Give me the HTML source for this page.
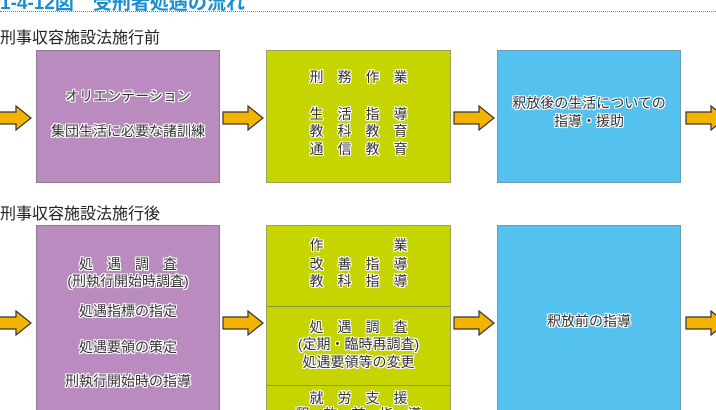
<!DOCTYPE html>
<html><head><meta charset="utf-8"><style>
html,body{margin:0;padding:0;background:#fff;width:716px;height:410px;overflow:hidden;position:relative;font-family:"Liberation Sans","Noto Sans CJK JP",sans-serif;}
.b{position:absolute;box-sizing:border-box;border:1px solid #8a7f8a;}
.p{background:#b98bbf;}
.g{background:#c6d400;border-color:#9aa060;}
.c{background:#55c1ee;border-color:#6f9bb0;}
.t{position:absolute;left:0;width:100%;text-align:center;font-size:14px;line-height:17px;color:#333;white-space:pre;
text-shadow:1px 0 0 #fff,-1px 0 0 #fff,0 1px 0 #fff,0 -1px 0 #fff,1px 1px 0 #fff,-1px -1px 0 #fff,1px -1px 0 #fff,-1px 1px 0 #fff;}
.h{position:absolute;left:0;font-size:16px;color:#222;}
.ttl{position:absolute;left:0;top:-12px;font-size:19px;font-weight:bold;color:#1a8fd0;white-space:nowrap;}
.dot{position:absolute;left:0;top:11px;width:716px;border-top:1px dotted #3aa0d8;}
svg.a{position:absolute;}
.div{position:absolute;left:0;width:100%;border-top:1px solid #8a9a40;}
</style></head><body>
<div class="ttl">1-4-12図　受刑者処遇の流れ</div>
<div class="dot"></div>
<div class="h" style="top:24px">刑事収容施設法施行前</div>
<div class="h" style="top:200px">刑事収容施設法施行後</div>

<div class="b p" style="left:36px;top:50px;width:184px;height:133px">
<div class="t" style="top:37px">オリエンテーション</div>
<div class="t" style="top:72px">集団生活に必要な諸訓練</div></div>
<div class="b g" style="left:266px;top:50px;width:185px;height:133px">
<div class="t" style="top:18px">刑　務　作　業</div>
<div class="t" style="top:55px">生　活　指　導</div>
<div class="t" style="top:72px">教　科　教　育</div>
<div class="t" style="top:90px">通　信　教　育</div></div>
<div class="b c" style="left:497px;top:50px;width:184px;height:133px">
<div class="t" style="top:44px">釈放後の生活についての</div>
<div class="t" style="top:62px">指導・援助</div></div>

<div class="b p" style="left:36px;top:225px;width:184px;height:200px">
<div class="t" style="top:30px">処　遇　調　査</div>
<div class="t" style="top:47px">(刑執行開始時調査)</div>
<div class="t" style="top:77px">処遇指標の指定</div>
<div class="t" style="top:113px">処遇要領の策定</div>
<div class="t" style="top:147px">刑執行開始時の指導</div></div>
<div class="b g" style="left:266px;top:225px;width:185px;height:200px">
<div class="t" style="top:11px">作　　　　　業</div>
<div class="t" style="top:30px">改　善　指　導</div>
<div class="t" style="top:47px">教　科　指　導</div>
<div class="div" style="top:80px"></div>
<div class="t" style="top:93px">処　遇　調　査</div>
<div class="t" style="top:110px">(定期・臨時再調査)</div>
<div class="t" style="top:128px">処遇要領等の変更</div>
<div class="div" style="top:159px"></div>
<div class="t" style="top:164px">就　労　支　援</div>
<div class="t" style="top:180px">釈　放　前　指　導</div></div>
<div class="b c" style="left:497px;top:225px;width:184px;height:200px">
<div class="t" style="top:87px">釈放前の指導</div></div>

<svg width="0" height="0" style="position:absolute"><defs>
<polygon id="ar" points="0,6 25,6 25,0 40,12 25,24 25,18 0,18" fill="#f4b300" stroke="#333" stroke-width="1.2"/></defs></svg>
<svg class="a" style="left:-10px;top:105px" width="44" height="26"><use href="#ar" x="1" y="1"/></svg>
<svg class="a" style="left:222px;top:105px" width="44" height="26"><use href="#ar" x="1" y="1"/></svg>
<svg class="a" style="left:453px;top:105px" width="44" height="26"><use href="#ar" x="1" y="1"/></svg>
<svg class="a" style="left:685px;top:105px" width="44" height="26"><use href="#ar" x="1" y="1"/></svg>
<svg class="a" style="left:-10px;top:310px" width="44" height="26"><use href="#ar" x="1" y="1"/></svg>
<svg class="a" style="left:222px;top:310px" width="44" height="26"><use href="#ar" x="1" y="1"/></svg>
<svg class="a" style="left:453px;top:310px" width="44" height="26"><use href="#ar" x="1" y="1"/></svg>
<svg class="a" style="left:685px;top:310px" width="44" height="26"><use href="#ar" x="1" y="1"/></svg>
</body></html>
